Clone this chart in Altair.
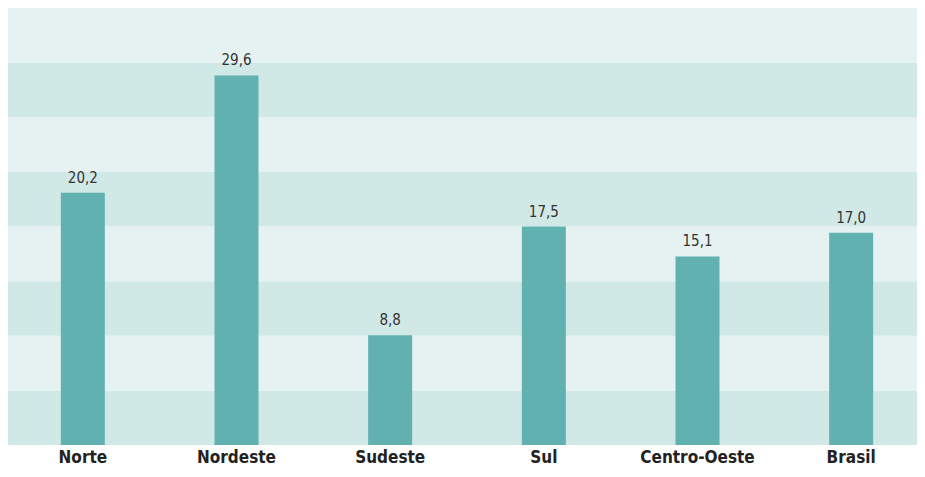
import altair as alt
import pandas as pd

regions = ["Norte", "Nordeste", "Sudeste", "Sul", "Centro-Oeste", "Brasil"]
values = [20.2, 29.6, 8.8, 17.5, 15.1, 17.0]
value_labels = ["20,2", "29,6", "8,8", "17,5", "15,1", "17,0"]

band_lo = [0, 4.375, 8.75, 13.125, 17.5, 21.875, 26.25, 30.625]
band_hi = [4.375, 8.75, 13.125, 17.5, 21.875, 26.25, 30.625, 35]
band_shade = ["dark", "light", "dark", "light", "dark", "light", "dark", "light"]

W, H = 917, 437
FONT = "DejaVu Sans Condensed"

df = pd.DataFrame({"regiao": regions, "valor": values, "rotulo": value_labels})
bands = pd.DataFrame({"lo": band_lo, "hi": band_hi, "shade": band_shade})

yscale = alt.Scale(domain=[0, 35], nice=False)

bg = alt.Chart(bands).mark_rect().encode(
    x=alt.value(0),
    x2=alt.value(W),
    y=alt.Y("lo:Q", scale=yscale, axis=None),
    y2="hi:Q",
    color=alt.Color("shade:N", scale=alt.Scale(domain=["light", "dark"], range=["#e6f2f2", "#d1e9e6"]), legend=None),
)

xenc = alt.X(
    "regiao:N",
    sort=regions,
    scale=alt.Scale(range=[-2, 920], paddingInner=0.714, paddingOuter=0.357),
    axis=alt.Axis(
        title=None, ticks=False, domain=False, labelAngle=0, labelPadding=4,
        labelFont=FONT, labelFontWeight="bold", labelFontSize=17,
        labelColor="#222222",
    ),
)

bars = alt.Chart(df).mark_bar(color="#61b1b1", width=44).encode(
    x=xenc,
    y=alt.Y("valor:Q", scale=yscale, axis=None),
)

text = alt.Chart(df).mark_text(
    baseline="bottom", dy=-7, font=FONT, fontSize=15, color="#333333"
).encode(
    x=alt.X("regiao:N", sort=regions),
    y=alt.Y("valor:Q", scale=yscale, axis=None),
    text="rotulo:N",
)

chart = alt.layer(bg, bars, text).properties(
    width=W, height=H,
    autosize=alt.AutoSizeParams(type="none"),
    padding={"left": 0, "top": 0, "right": -8, "bottom": 20},
).configure_view(stroke=None)

chart.save("out.html", embed_options={"renderer": "svg", "actions": False})
